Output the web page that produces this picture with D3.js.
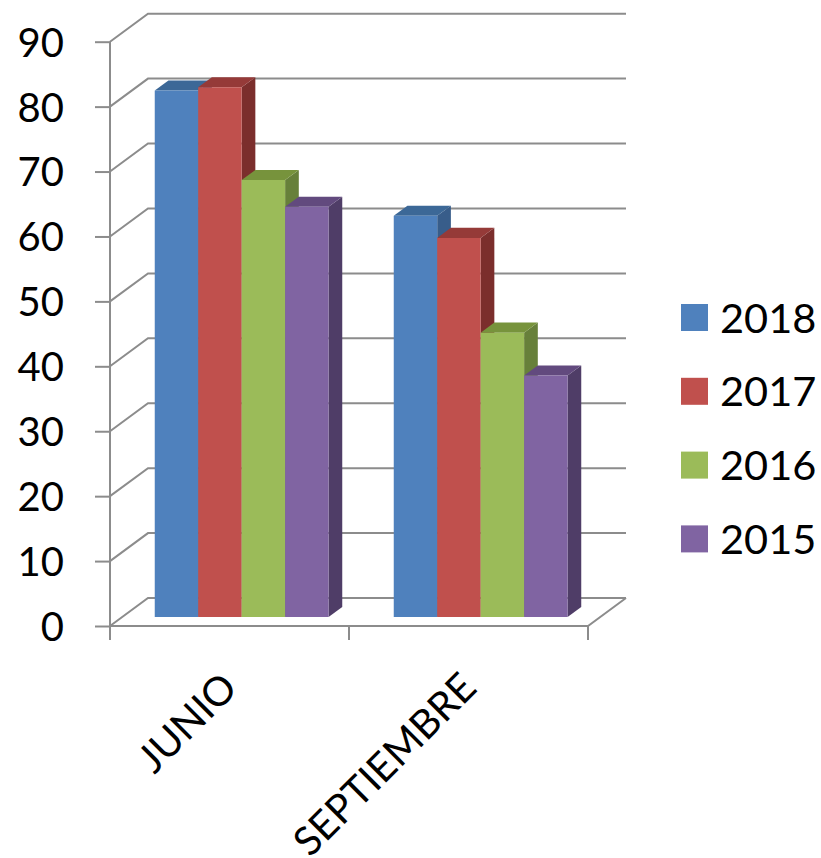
<!DOCTYPE html>
<html>
<head>
<meta charset="utf-8">
<script src="https://cdn.jsdelivr.net/npm/d3@7"></script>
<style>
  body { margin: 0; background: #fff; }
  svg { display: block; font-family: Lato, "Open Sans", sans-serif; }
</style>
</head>
<body>
<svg id="chart" width="821" height="858"></svg>
<script>
const categories = ["JUNIO", "SEPTIEMBRE"];
const series = ["2018", "2017", "2016", "2015"];
const values2018 = [81.1, 61.8];
const values2017 = [81.6, 58.4];
const values2016 = [67.3, 43.8];
const values2015 = [63.2, 37.2];
const yTicks = [0, 10, 20, 30, 40, 50, 60, 70, 80, 90];

const seriesValues = [values2018, values2017, values2016, values2015];
const frontColors = ["#4f81bd", "#c0504d", "#9bbb59", "#8064a2"];
const topColors = ["#3c6897", "#953a38", "#77933c", "#624a7e"];
const sideColors = ["#385d8a", "#7b2e2c", "#67803a", "#4f3d67"];

const svg = d3.select("#chart");

// floor / wall geometry
const left = 110, right = 588, base = 626;
const depthX = 38, depthY = 28;
const proj = (x, y, d) => [x + depthX * d, y - depthY * d];

const x0 = d3.scaleBand().domain(categories).range([left, right]).padding(0);
const x1 = d3.scaleBand().domain(series).range([0, x0.bandwidth()])
  .paddingInner(0).paddingOuter(0.75);
const y = d3.scaleLinear().domain([0, 90]).range([base, 41.7]);

const gridColor = "#8c8c8c";
const grid = svg.append("g").attr("stroke", gridColor).attr("stroke-width", 2).attr("fill", "none");

// gridlines: side wall + back wall
for (const t of yTicks) {
  const p0 = [left, y(t)];
  const p1 = proj(left, y(t), 1);
  const p2 = proj(right, y(t), 1);
  grid.append("polyline").attr("points", [p0, p1, p2].map(p => p.join(",")).join(" "));
}

// floor
const fr = proj(right, base, 1);
grid.append("polyline").attr("points", `${left},${base} ${right},${base} ${fr[0]},${fr[1]}`);

// category ticks (band edges)
const edges = categories.map(c => x0(c)).concat([x0(categories[categories.length - 1]) + x0.bandwidth()]);
grid.selectAll("line.ctick").data(edges).enter().append("line")
  .attr("x1", d => d).attr("x2", d => d)
  .attr("y1", base).attr("y2", base + 14);

// y axis
const yAxis = svg.append("g")
  .attr("transform", `translate(${left},0)`)
  .call(d3.axisLeft(y).tickValues(yTicks).tickSize(15).tickPadding(31));
yAxis.select(".domain").remove();
yAxis.selectAll(".tick line").attr("stroke", gridColor).attr("stroke-width", 2);
yAxis.selectAll(".tick text")
  .attr("font-family", "Lato, sans-serif")
  .attr("font-size", 40)
  .attr("fill", "#000")
  .attr("dy", "0.36em");
svg.append("line")
  .attr("x1", left).attr("x2", left)
  .attr("y1", y(90)).attr("y2", base)
  .attr("stroke", gridColor).attr("stroke-width", 2);

// bars (front at depth f0, back at f1)
const f0 = 0.32, f1 = 0.68;
const bars = svg.append("g");
const poly = pts => pts.map(p => p.join(",")).join(" ");
categories.forEach((cat, ci) => {
  series.forEach((s, si) => {
    const v = seriesValues[si][ci];
    const xa = x0(cat) + x1(s), xb = xa + x1.bandwidth();
    const a = proj(xa, y(v), f0), b = proj(xb, y(v), f0);
    const c = proj(xb, y(0), f0), d = proj(xa, y(0), f0);
    const bt = proj(xb, y(v), f1), at = proj(xa, y(v), f1), ct = proj(xb, y(0), f1);
    bars.append("polygon").attr("points", poly([b, bt, ct, c])).attr("fill", sideColors[si]);
    bars.append("polygon").attr("points", poly([a, b, bt, at])).attr("fill", topColors[si]);
    bars.append("polygon").attr("points", poly([a, b, c, d])).attr("fill", frontColors[si]);
  });
});

// category labels
svg.append("g").selectAll("text").data(categories).enter().append("text")
  .attr("transform", d => `translate(${x0(d) + x0.bandwidth() / 2 + 10},690) rotate(-45)`)
  .attr("text-anchor", "end")
  .attr("font-size", 40)
  .attr("fill", "#000")
  .text(d => d);

// legend
const legend = svg.append("g").attr("transform", "translate(681,304)");
const item = legend.selectAll("g").data(series).enter().append("g")
  .attr("transform", (d, i) => `translate(0,${i * 73.8})`);
item.append("rect").attr("width", 27).attr("height", 27).attr("fill", (d, i) => frontColors[i]);
item.append("text").attr("x", 39).attr("y", 28.5)
  .attr("font-size", 41.5).attr("fill", "#000").text(d => d);
</script>
</body>
</html>
